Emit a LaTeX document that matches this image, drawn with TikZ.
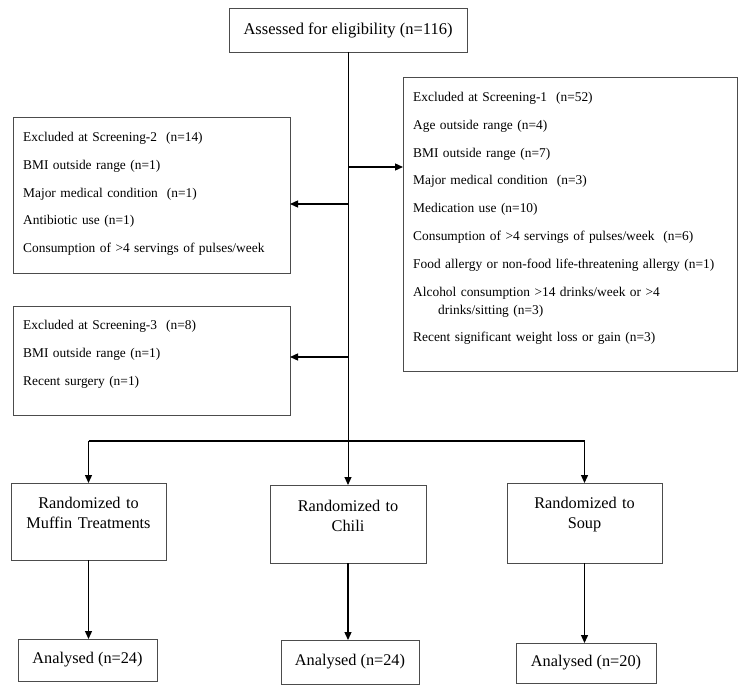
\documentclass[tikz,border=0pt]{standalone}
\usepackage{fontspec}
\setmainfont{Liberation Serif}
\usetikzlibrary{arrows.meta}
\begin{document}
\begin{tikzpicture}[x=1pt,y=-1pt,
 box/.style={draw=black!70, line width=0.9pt, inner sep=0pt, outer sep=0pt, anchor=north west},
 smalltxt/.style={font=\fontsize{13.4}{18}\selectfont, inner sep=0pt, anchor=base west, text width=325pt, align=left},
 bigtxt/.style={font=\fontsize{16.3}{20}\selectfont, inner sep=0pt, align=center, anchor=base, text width=150pt},
 conn/.style={line width=1.3pt, black},
 arr/.style={conn, -{Triangle[length=8pt,width=7pt]}},
]
\useasboundingbox (0,0) rectangle (746,692);
\fill[white] (0,0) rectangle (746,692);

% top box
\node[box, minimum width=238pt, minimum height=44pt, font=\fontsize{16.5}{18}\selectfont] (top) at (229,8) {Assessed for eligibility (n=116)};

% exclusion boxes
\node[box, minimum width=334pt, minimum height=294pt] (ex1) at (403,77) {};
\node[smalltxt] (ex1t) at (413,101.5) {Excluded at Screening-1\ \ (n=52)\\[9.8pt]
Age outside range (n=4)\\[9.8pt]
BMI outside range (n=7)\\[9.8pt]
Major medical condition\ \ (n=3)\\[9.8pt]
Medication use (n=10)\\[9.8pt]
Consumption of >4 servings of pulses/week\ \ (n=6)\\[9.8pt]
Food allergy or non-food life-threatening allergy (n=1)\\[9.8pt]
Alcohol consumption >14 drinks/week or >4\\
\hspace*{25pt}drinks/sitting (n=3)\\[9.8pt]
Recent significant weight loss or gain (n=3)};

\node[box, minimum width=277pt, minimum height=156pt] (ex2) at (13,117) {};
\node[smalltxt] (ex2t) at (23,141.5) {Excluded at Screening-2\ \ (n=14)\\[9.8pt]
BMI outside range (n=1)\\[9.8pt]
Major medical condition\ \ (n=1)\\[9.8pt]
Antibiotic use (n=1)\\[9.8pt]
Consumption\ of\ >4\ servings\ of\ pulses/week};

\node[box, minimum width=277pt, minimum height=109pt] (ex3) at (13,306) {};
\node[smalltxt] (ex3t) at (23,329.5) {Excluded at Screening-3\ \ (n=8)\\[9.8pt]
BMI outside range (n=1)\\[9.8pt]
Recent surgery (n=1)};

% randomized boxes
\node[box, minimum width=155pt, minimum height=77pt] (muf) at (11,483) {};
\node[bigtxt] (muft) at (88.5,508) {Randomized to\\Muffin Treatments};
\node[box, minimum width=156pt, minimum height=78pt] (chili) at (270,485) {};
\node[bigtxt] (chilit) at (348,511) {Randomized to\\Chili};
\node[box, minimum width=155pt, minimum height=80pt] (soup) at (507,483) {};
\node[bigtxt] (soupt) at (584.5,508) {Randomized to\\Soup};

% analysed boxes
\node[box, minimum width=139pt, minimum height=42pt, font=\fontsize{16.3}{18}\selectfont] (a1) at (18,639) {Analysed (n=24)};
\node[box, minimum width=138pt, minimum height=44pt, font=\fontsize{16.3}{18}\selectfont] (a2) at (281,640) {Analysed (n=24)};
\node[box, minimum width=140pt, minimum height=40pt, font=\fontsize{16.3}{18}\selectfont] (a3) at (516,643) {Analysed (n=20)};

% connectors
\coordinate (j1) at (348,167);
\coordinate (j2) at (348,204);
\coordinate (j3) at (348,357);
\coordinate (brL) at (88.5,441);
\coordinate (brR) at (584.5,441);

\draw[arr, line width=1pt] (top.south) -- (chili.north);
\draw[arr] (j1) -- (j1 -| ex1.west);
\draw[arr] (j2) -- (j2 -| ex2.east);
\draw[arr] (j3) -- (j3 -| ex3.east);
\draw[conn, line width=2pt] (brL) -- (brR);
\draw[arr] (brL) -- (muf.north);
\draw[arr] (brR) -- (soup.north);
\draw[arr] (muf.south) -- (muf.south |- a1.north);
\draw[arr] (chili.south) -- (chili.south |- a2.north);
\draw[arr] (soup.south) -- (soup.south |- a3.north);
\end{tikzpicture}
\end{document}
